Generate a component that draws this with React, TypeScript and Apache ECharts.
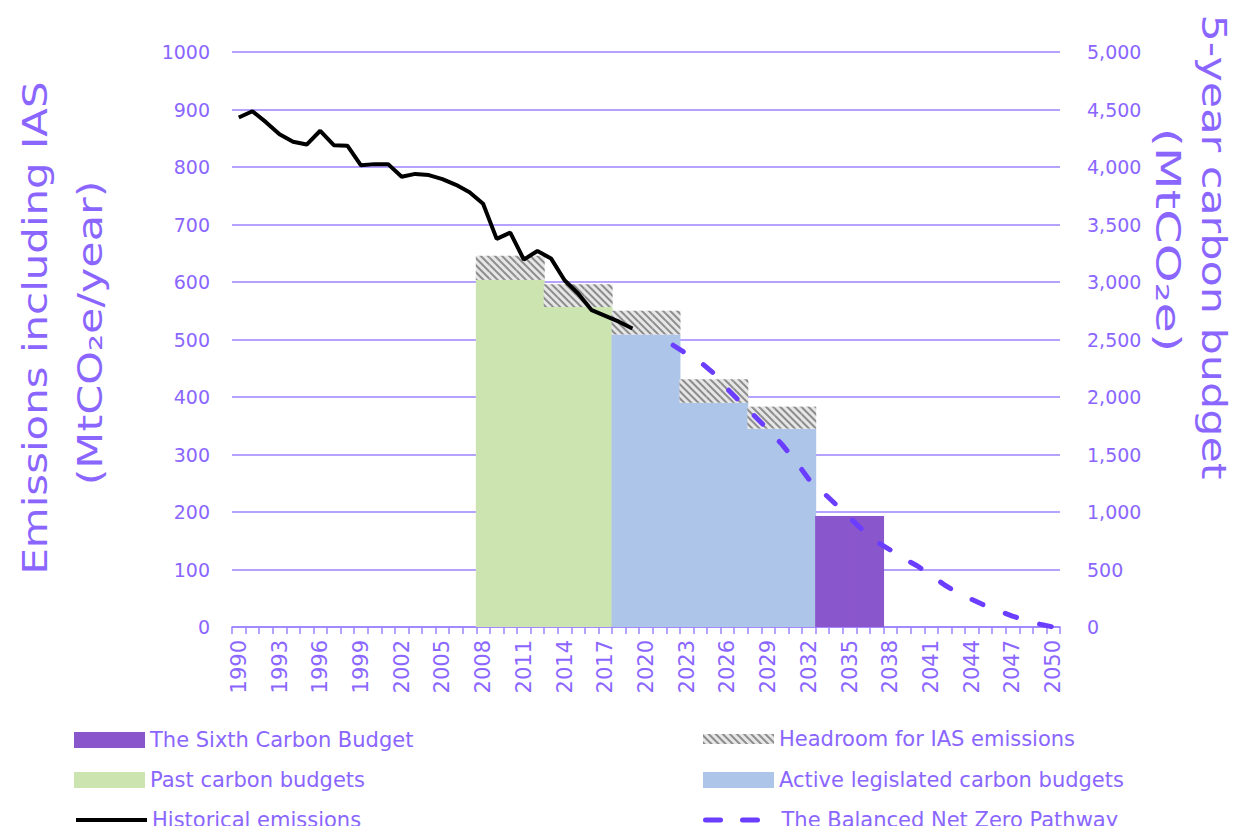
import { useEffect, useRef } from "react";
import * as echarts from "echarts";

const years = [
  "1990","1991","1992","1993","1994","1995","1996","1997","1998","1999",
  "2000","2001","2002","2003","2004","2005","2006","2007","2008","2009",
  "2010","2011","2012","2013","2014","2015","2016","2017","2018","2019",
  "2020","2021","2022","2023","2024","2025","2026","2027","2028","2029",
  "2030","2031","2032","2033","2034","2035","2036","2037","2038","2039",
  "2040","2041","2042","2043","2044","2045","2046","2047","2048","2049",
  "2050",
];

// Historical emissions incl. IAS, MtCO2e/year, 1990..2019
const historicalStart = 1990;
const historical = [
  886, 897, 878, 857, 844, 839, 863, 838, 837, 803,
  805, 805, 783, 788, 786, 779, 769, 756, 736, 675,
  686, 639, 654, 641, 603, 580, 551, 541, 531, 519,
];

// Balanced Net Zero Pathway, MtCO2e/year, 2022..2050
const pathwayStart = 2022;
const pathway = [
  490, 475, 461, 441, 414, 390, 367, 343, 318, 289,
  257, 235, 213, 190, 168, 148, 134, 119, 106, 90,
  73, 59, 48, 37, 28, 19, 11, 5, 0,
];

// 5-year carbon budgets, MtCO2e per budget period
const budgetStartYears = [2008, 2013, 2018, 2023, 2028, 2033];
const budgetTotals = [3018, 2782, 2544, 1950, 1725, 965];
const budgetKinds = ["past", "past", "active", "active", "active", "sixth"];
const budgetHeadroom = [210, 198, 206, 204, 191, 0];
const budgetLength = 5;

const leftTicks = { min: 0, max: 1000, interval: 100 };
const rightTicks = { min: 0, max: 5000, interval: 500 };

const TXT = "#8a66ff";
const GRIDC = "#9d82ff";
const FONT = "DejaVu Sans";

function budgetSeriesData(kind: string | null): (number | null)[] {
  return years.map((y) => {
    const yr = Number(y);
    for (let i = 0; i < budgetStartYears.length; i++) {
      const s = budgetStartYears[i];
      if (yr >= s && yr < s + budgetLength) {
        if (kind === null) return budgetHeadroom[i] > 0 ? budgetHeadroom[i] : null;
        return budgetKinds[i] === kind ? budgetTotals[i] : null;
      }
    }
    return null;
  });
}

export default function App() {
  const ref = useRef<HTMLDivElement>(null);
  useEffect(() => {
    if (!ref.current) return;
    const chart = echarts.init(ref.current, null, { renderer: "svg" });

    const histData = years.map((y) => {
      const i = Number(y) - historicalStart;
      return i >= 0 && i < historical.length ? historical[i] : null;
    });
    const pathData = years.map((y) => {
      const i = Number(y) - pathwayStart;
      return i >= 0 && i < pathway.length ? pathway[i] : null;
    });

    const barCommon = {
      type: "bar",
      yAxisIndex: 1,
      stack: "budget",
      barWidth: 14.6,
    };

    const legendText = { color: TXT, fontSize: 21, fontFamily: FONT };
    const mkLegend = (left: number, centerY: number, item: any, iconH: number) => ({
      orient: "horizontal",
      left,
      top: centerY - 13,
      height: 26,
      padding: 0,
      itemWidth: 71,
      itemHeight: iconH,
      textStyle: { ...legendText, lineHeight: 26 },
      data: [item],
    });

    chart.setOption({
      animation: false,
      textStyle: { fontFamily: FONT },
      grid: { left: 232, right: 187, top: 52, bottom: 207 },
      xAxis: {
        type: "category",
        data: years,
        boundaryGap: true,
        axisLine: { lineStyle: { color: GRIDC, width: 1.5 } },
        axisTick: { show: true, interval: 0, length: 7, lineStyle: { color: GRIDC, width: 1.5 } },
        axisLabel: { interval: 2, rotate: 90, color: TXT, fontSize: 21, margin: 13, fontFamily: FONT },
        splitLine: { show: false },
      },
      yAxis: [
        {
          type: "value",
          ...leftTicks,
          position: "left",
          axisLine: { show: false },
          axisTick: { show: false },
          axisLabel: { color: TXT, fontSize: 19, margin: 22, fontFamily: FONT, formatter: (v: number) => String(v) },
          splitLine: { show: true, lineStyle: { color: GRIDC, width: 1.5 } },
        },
        {
          type: "value",
          ...rightTicks,
          position: "right",
          axisLine: { show: false },
          axisTick: { show: false },
          axisLabel: {
            color: TXT, fontSize: 19, margin: 27, fontFamily: FONT,
            formatter: (v: number) => v.toLocaleString("en-US"),
          },
          splitLine: { show: false },
        },
      ],
      legend: [
        mkLegend(74, 740, { name: "The Sixth Carbon Budget", icon: "rect" }, 16),
        mkLegend(74, 780, { name: "Past carbon budgets", icon: "rect" }, 16),
        mkLegend(74, 820, {
          name: "Historical emissions",
          itemStyle: { opacity: 0 },
          lineStyle: { width: 4 },
        }, 16),
        mkLegend(703, 739, { name: "Headroom for IAS emissions", icon: "rect" }, 10),
        mkLegend(703, 780, { name: "Active legislated carbon budgets", icon: "rect" }, 16),
        mkLegend(703, 820, {
          name: "The Balanced Net Zero Pathway",
          itemStyle: { opacity: 0 },
          lineStyle: { width: 5, type: [15, 22], cap: "round" },
        }, 16),
      ],
      graphic: [
        {
          type: "text", x: 36, y: 328, rotation: Math.PI / 2, scaleX: 1.27,
          style: { text: "Emissions including IAS", fontSize: 33, fontFamily: FONT, fill: TXT, align: "center", verticalAlign: "middle" },
        },
        {
          type: "text", x: 90, y: 333, rotation: Math.PI / 2, scaleX: 1.3,
          style: { text: "(MtCO\u2082e/year)", fontSize: 33, fontFamily: FONT, fill: TXT, align: "center", verticalAlign: "middle" },
        },
        {
          type: "text", x: 1214, y: 247, rotation: -Math.PI / 2, scaleX: 1.3,
          style: { text: "5-year carbon budget", fontSize: 33, fontFamily: FONT, fill: TXT, align: "center", verticalAlign: "middle" },
        },
        {
          type: "text", x: 1167, y: 240, rotation: -Math.PI / 2, scaleX: 1.5,
          style: { text: "(MtCO\u2082e)", fontSize: 33, fontFamily: FONT, fill: TXT, align: "center", verticalAlign: "middle" },
        },
      ],
      series: [
        {
          ...barCommon,
          name: "Past carbon budgets",
          itemStyle: { color: "#cce5b0" },
          data: budgetSeriesData("past"),
        },
        {
          ...barCommon,
          name: "Active legislated carbon budgets",
          itemStyle: { color: "#adc5e9" },
          data: budgetSeriesData("active"),
        },
        {
          ...barCommon,
          name: "The Sixth Carbon Budget",
          itemStyle: { color: "#8a56cc" },
          data: budgetSeriesData("sixth"),
        },
        {
          ...barCommon,
          name: "Headroom for IAS emissions",
          itemStyle: {
            color: "#e6e6e6",
            decal: {
              symbol: "rect",
              symbolSize: 1,
              dashArrayX: [1, 0],
              dashArrayY: [2, 2.3],
              rotation: Math.PI / 4,
              color: "#8c8c8c",
            },
          },
          data: budgetSeriesData(null),
        },
        {
          type: "line",
          name: "Historical emissions",
          yAxisIndex: 0,
          data: histData,
          symbol: "none",
          showSymbol: false,
          color: "#000000",
          lineStyle: { color: "#000000", width: 4 },
          z: 5,
        },
        {
          type: "line",
          name: "The Balanced Net Zero Pathway",
          yAxisIndex: 0,
          data: pathData,
          symbol: "none",
          showSymbol: false,
          color: "#6a3dff",
          lineStyle: { color: "#6a3dff", width: 5, type: [12, 24], cap: "round" },
          z: 5,
        },
      ],
    });
    return () => chart.dispose();
  }, []);
  return <div ref={ref} style={{ width: 1247, height: 834, margin: -8 }} />;
}
